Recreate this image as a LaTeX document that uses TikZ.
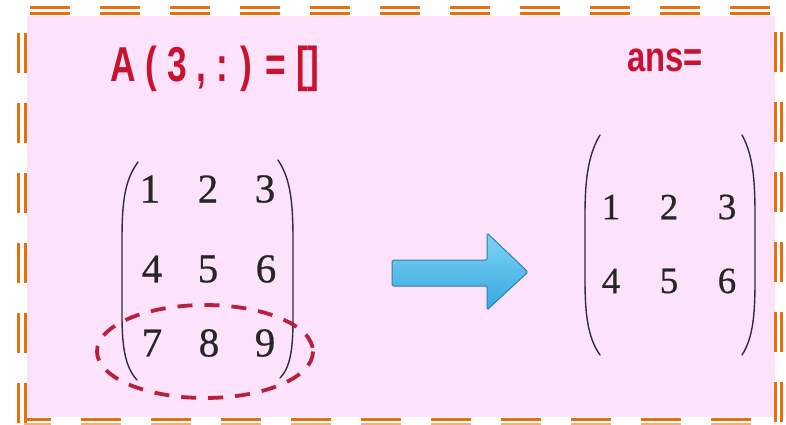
\documentclass[tikz,border=0pt]{standalone}
\usepackage{fontspec}
\setmainfont{Liberation Serif}
\newfontfamily\titlefont{Liberation Sans}
\newfontfamily\digfont[FakeBold=0.6]{Liberation Serif}
\definecolor{bgpink}{RGB}{252,226,250}
\definecolor{bord}{RGB}{232,112,12}
\definecolor{titlered}{RGB}{200,18,48}
\definecolor{ellred}{RGB}{184,32,60}
\definecolor{arrowtop}{RGB}{128,212,245}
\definecolor{arrowbot}{RGB}{52,168,224}
\definecolor{arrowedge}{RGB}{46,128,176}
\definecolor{parcol}{RGB}{50,45,55}
\begin{document}
\begin{tikzpicture}[x=1pt,y=-1pt,
  bline/.style={draw=bord,line width=3.2pt,dash pattern=on 40pt off 30pt},
  bigdig/.style={inner sep=0pt,font=\digfont\fontsize{41}{42}\selectfont,text=black!85},
  smalldig/.style={inner sep=0pt,font=\digfont\fontsize{37}{38}\selectfont,text=black!85},
  paren/.style={draw=parcol,line width=1.4pt,line cap=round},
  ttl/.style={inner sep=0pt,text=titlered,anchor=base}]
\useasboundingbox (0,0) rectangle (786,425);
% background
\fill[bgpink] (27,16) rectangle (775,417);
% border
\draw[bline] (30,7.6) -- (770,7.6);
\draw[bline] (30,13.6) -- (770,13.6);
\draw[bline] (18.5,33) -- (18.5,423);
\draw[bline] (25.5,33) -- (25.5,423);
\draw[bline] (775.5,32) -- (775.5,422);
\draw[bline] (781.5,32) -- (781.5,422);
\draw[bline] (81,419.5) -- (751,419.5);
\draw[draw=bord,line width=3.2pt] (24,419.5) -- (51,419.5);
\draw[bline,draw=bord!55] (81,424.5) -- (751,424.5);
\draw[draw=bord!55,line width=3.2pt] (24,424.5) -- (51,424.5);
% titles
\node[ttl] (title) at (215,82) {\scalebox{0.72}[1]{\titlefont\bfseries\fontsize{49}{50}\selectfont A ( 3 , : ) = []}};
\node[ttl] (ans) at (665,72) {\scalebox{0.78}[1]{\titlefont\bfseries\fontsize{42}{43}\selectfont ans=}};
% left matrix
\draw[paren] (138,162) .. controls (125,180) and (122,200) .. (122,240) -- (122,315) .. controls (122,350) and (126,368) .. (137,380);
\draw[paren] (278,160) .. controls (290,178) and (293,200) .. (293,240) -- (293,320) .. controls (293,350) and (290,368) .. (280,378);
\node[bigdig] (a11) at (150,189) {1};
\node[bigdig] (a12) at (208,189) {2};
\node[bigdig] (a13) at (265,189) {3};
\node[bigdig] (a21) at (152,269) {4};
\node[bigdig] (a22) at (208,269) {5};
\node[bigdig] (a23) at (266,269) {6};
\node[bigdig] (a31) at (152,343) {7};
\node[bigdig] (a32) at (209,343) {8};
\node[bigdig] (a33) at (265,343) {9};
% dashed ellipse
\draw[ellred,line width=3.8pt,dash pattern=on 15pt off 12pt] (205,351.5) ellipse (108 and 46.5);
% arrow
\path[top color=arrowtop,bottom color=arrowbot,draw=arrowedge,line width=1pt,rounded corners=1.5pt]
  (392,260) -- (487,260) -- (487,233) -- (528,272) -- (487,310) -- (487,286) -- (392,286) -- cycle;
% right matrix
\draw[paren] (600,135) .. controls (588,155) and (585,180) .. (585,215) -- (585,280) .. controls (585,315) and (588,338) .. (600,355);
\draw[paren] (742,135) .. controls (753,155) and (755,180) .. (755,215) -- (755,280) .. controls (755,315) and (753,338) .. (742,355);
\node[smalldig] (b11) at (611,207) {1};
\node[smalldig] (b12) at (669,207) {2};
\node[smalldig] (b13) at (727,207) {3};
\node[smalldig] (b21) at (611,281) {4};
\node[smalldig] (b22) at (669,281) {5};
\node[smalldig] (b23) at (727,281) {6};
\end{tikzpicture}
\end{document}
